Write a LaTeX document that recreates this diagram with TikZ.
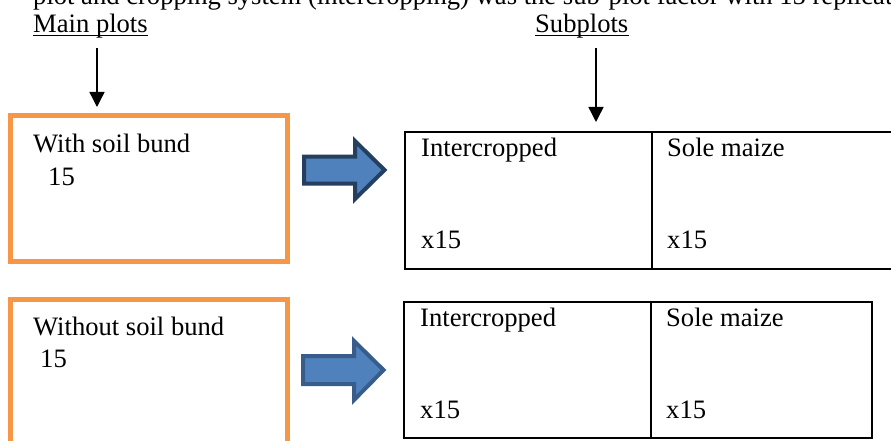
\documentclass[tikz,border=0pt]{standalone}
\usepackage{fontspec}
\setmainfont{Liberation Serif}
\usetikzlibrary{arrows.meta}
\definecolor{orbox}{HTML}{F79646}
\definecolor{bluefill}{HTML}{4F81BD}
\definecolor{blueedgeA}{HTML}{243F60}
\definecolor{blueedgeB}{HTML}{385D8A}
\tikzset{
  txt/.style={anchor=base west, inner sep=0pt, font=\fontsize{26.6}{30}\selectfont},
  mainbox/.style={draw=orbox, line width=5pt},
  tablebox/.style={draw=black, line width=2pt},
  downarrow/.style={line width=1.4pt, -{Triangle[width=15pt,length=15pt]}},
  blockarrow/.style={fill=bluefill, line width=4pt, line join=miter},
  uline/.style={line width=1.5pt}
}
\begin{document}
\begin{tikzpicture}[x=1pt,y=-1pt]
\useasboundingbox (0,0) rectangle (891,441);
\clip (0,0) rectangle (891,441);
\fill[white] (0,0) rectangle (891,441);
% top cut-off sentence
\node[txt] (sent) at (33,4.5) {plot and cropping system (intercropping) was the sub-plot factor with 15 replications};
% headings
\node[txt] (mp) at (33,33) {Main plots};
\node[txt] (sp) at (535,33) {Subplots};
\draw[uline] ([yshift=-2.5pt]mp.base west) -- ([yshift=-2.5pt]mp.base east);
\draw[uline] ([yshift=-2.5pt]sp.base west) -- ([yshift=-2.5pt]sp.base east);
% down arrows
\coordinate (mpa) at (97,48);
\coordinate (mpb) at (97,107);
\coordinate (spa) at (596,48);
\coordinate (spb) at (596,122);
\draw[downarrow] (mpa) -- (mpb);
\draw[downarrow] (spa) -- (spb);
% main plot boxes
\draw[mainbox] (10.5,115.5) rectangle (287.5,261.5);
\draw[mainbox] (10.5,299.2) rectangle (287.5,460);
\node[txt] (w1) at (33,153) {With soil bund};
\node[txt] (w1n) at (48,185) {15};
\node[txt] (w2) at (33,335) {Without soil bund};
\node[txt] (w2n) at (40,367) {15};
% block arrows
\draw[blockarrow, draw=blueedgeA] (304,156.5) -- (355,156.5) -- (355,141) -- (384.5,170) -- (355,199) -- (355,183.5) -- (304,183.5) -- cycle;
\draw[blockarrow, draw=blueedgeB] (303,356) -- (354,356) -- (354,341) -- (383.5,370) -- (354,400) -- (354,384) -- (303,384) -- cycle;
% subplot tables
\draw[tablebox] (405,132) rectangle (900,269);
\draw[tablebox] (652,132) -- (652,269);
\draw[tablebox] (404,302) rectangle (872,437.5);
\draw[tablebox] (651,302) -- (651,437.5);
\node[txt] (i1) at (421,156) {Intercropped};
\node[txt] (s1) at (667,156) {Sole maize};
\node[txt] (x1) at (421,248) {x15};
\node[txt] (y1) at (667,248) {x15};
\node[txt] (i2) at (420,326) {Intercropped};
\node[txt] (s2) at (666,326) {Sole maize};
\node[txt] (x2) at (420,418) {x15};
\node[txt] (y2) at (666,418) {x15};
\end{tikzpicture}
\end{document}
